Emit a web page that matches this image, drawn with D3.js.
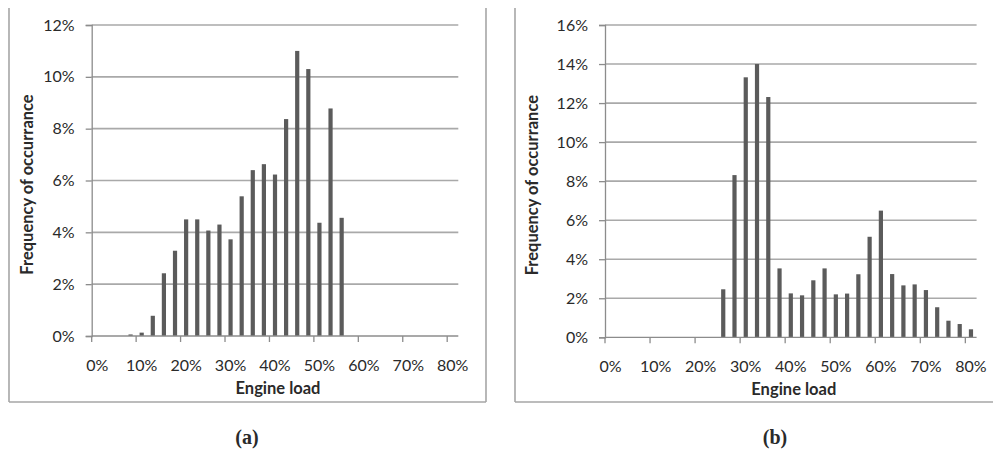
<!DOCTYPE html>
<html>
<head>
<meta charset="utf-8">
<script src="https://cdn.jsdelivr.net/npm/d3@7"></script>
<style>
  html, body { margin: 0; padding: 0; background: #fff; }
  svg { display: block; }
  text { font-family: Lato, "Open Sans", sans-serif; fill: #2a2a2a; }
</style>
</head>
<body>
<svg id="chart" width="993" height="457"></svg>
<script>
// ---- data ----
const categories = d3.range(0, 33).map(i => i * 2.5); // engine load, %
const xTickLabels = ["0%", "10%", "20%", "30%", "40%", "50%", "60%", "70%", "80%"];
const yTicksA = [0, 0.02, 0.04, 0.06, 0.08, 0.10, 0.12];
const yTicksB = [0, 0.02, 0.04, 0.06, 0.08, 0.10, 0.12, 0.14, 0.16];
// frequency of occurrence (%), chart (a)
const valuesA = [0, 0, 0, 0.06, 0.13, 0.78, 2.42, 3.29, 4.5, 4.5, 4.07, 4.3, 3.73, 5.39, 6.4, 6.63,
                 6.23, 8.37, 11.0, 10.3, 4.37, 8.78, 4.56, 0, 0, 0, 0, 0, 0, 0, 0, 0, 0];
// frequency of occurrence (%), chart (b)
const valuesB = [0, 0, 0, 0, 0, 0, 0, 0, 0, 0, 2.46, 8.31, 13.32, 14.0, 12.31, 3.53,
                 2.25, 2.15, 2.92, 3.53, 2.2, 2.24, 3.23, 5.15, 6.49, 3.24, 2.66, 2.71, 2.42, 1.54, 0.85, 0.68, 0.41];
const xTitle = "Engine load";
const yTitle = "Frequency of occurrance";
const panelLabels = ["(a)", "(b)"];

const svg = d3.select("#chart");
const frameColor = "#a6a6a6";
const gridColor = "#a9a9a9";
const axisColor = "#8c8c8c";
const barColor = "#5b5b5b";

// panel frames (top edge cropped off in the original)
function frame(x0, x1, y0, y1, rightSide) {
  const g = svg.append("g").attr("fill", "none").attr("stroke", frameColor).attr("stroke-width", 1.6);
  g.append("line").attr("x1", x0).attr("x2", x0).attr("y1", y0).attr("y2", y1);
  g.append("line").attr("x1", x0).attr("x2", x1).attr("y1", y1).attr("y2", y1);
  if (rightSide) g.append("line").attr("x1", x1).attr("x2", x1).attr("y1", y0).attr("y2", y1);
}
frame(9, 486, 8, 402, true);
frame(515, 1000, 8, 402, false);

function drawChart(cfg) {
  const g = svg.append("g");
  const x = d3.scaleBand().domain(categories).range([cfg.left, cfg.right]).padding(0);
  const y = d3.scaleLinear().domain([0, cfg.yMax]).range([cfg.bottom, cfg.top]);
  const bw = x.bandwidth();
  const barW = 4.2;

  // gridlines
  g.append("g").selectAll("line").data(cfg.yTicks.filter(d => d > 0)).join("line")
    .attr("x1", cfg.left).attr("x2", cfg.right)
    .attr("y1", d => y(d)).attr("y2", d => y(d))
    .attr("stroke", gridColor).attr("stroke-width", 1.6);

  // y axis
  const ya = g.append("g").attr("transform", `translate(${cfg.left},0)`)
    .call(d3.axisLeft(y).tickValues(cfg.yTicks).tickFormat(d3.format(".0%")).tickSize(6).tickPadding(11));
  ya.select(".domain").attr("stroke", axisColor).attr("stroke-width", 1.3);
  ya.selectAll(".tick line").attr("stroke", axisColor).attr("stroke-width", 1.3);
  ya.selectAll(".tick text").style("font-size", "16px").attr("fill", "#2a2a2a");

  // bars
  g.append("g").selectAll("rect").data(categories.map((c, i) => ({c, v: cfg.values[i]})).filter(d => d.v > 0))
    .join("rect")
    .attr("x", d => x(d.c) + (bw - barW) / 2)
    .attr("width", barW)
    .attr("y", d => y(d.v / 100))
    .attr("height", d => cfg.bottom - y(d.v / 100))
    .attr("fill", barColor);

  // x axis: ticks at category boundaries every 4 categories, labels centered on category
  const tickCats = categories.filter((c, i) => i % 4 === 0);
  const xa = g.append("g").attr("transform", `translate(0,${cfg.bottom})`);
  xa.append("line").attr("x1", cfg.left).attr("x2", cfg.right).attr("y1", 0).attr("y2", 0)
    .attr("stroke", axisColor).attr("stroke-width", 1.3);
  xa.selectAll("line.tk").data(tickCats).join("line").attr("class", "tk")
    .attr("x1", d => x(d)).attr("x2", d => x(d)).attr("y1", 0).attr("y2", 6)
    .attr("stroke", axisColor).attr("stroke-width", 1.3);
  xa.selectAll("text").data(tickCats).join("text")
    .attr("x", d => x(d) + bw / 2).attr("y", 35)
    .attr("text-anchor", "middle").style("font-size", "16px")
    .text((d, i) => xTickLabels[i]);

  // titles
  g.append("text").attr("x", (cfg.left + cfg.right) / 2 + 3).attr("y", cfg.bottom + 58)
    .attr("text-anchor", "middle").style("font-size", "16.5px").style("font-weight", "bold").text(xTitle);
  g.append("text").attr("transform", `translate(${cfg.ytX},${(cfg.top + cfg.bottom) / 2 + 4}) rotate(-90)`)
    .attr("text-anchor", "middle").style("font-size", "16.5px").style("font-weight", "bold").text(yTitle);
  g.append("text").attr("x", cfg.labelX).attr("y", 444)
    .attr("text-anchor", "middle")
    .style("font-family", "'Liberation Serif', 'DejaVu Serif', serif")
    .style("font-size", "20px").style("font-weight", "bold").attr("fill", "#111")
    .text(cfg.label);
}

drawChart({left: 91.7, right: 458.3, top: 25, bottom: 336, yMax: 0.12, yTicks: yTicksA,
           values: valuesA, ytX: 33, labelX: 247, label: panelLabels[0]});
drawChart({left: 605, right: 976.6, top: 25, bottom: 337.3, yMax: 0.16, yTicks: yTicksB,
           values: valuesB, ytX: 538, labelX: 775, label: panelLabels[1]});
</script>
</body>
</html>
